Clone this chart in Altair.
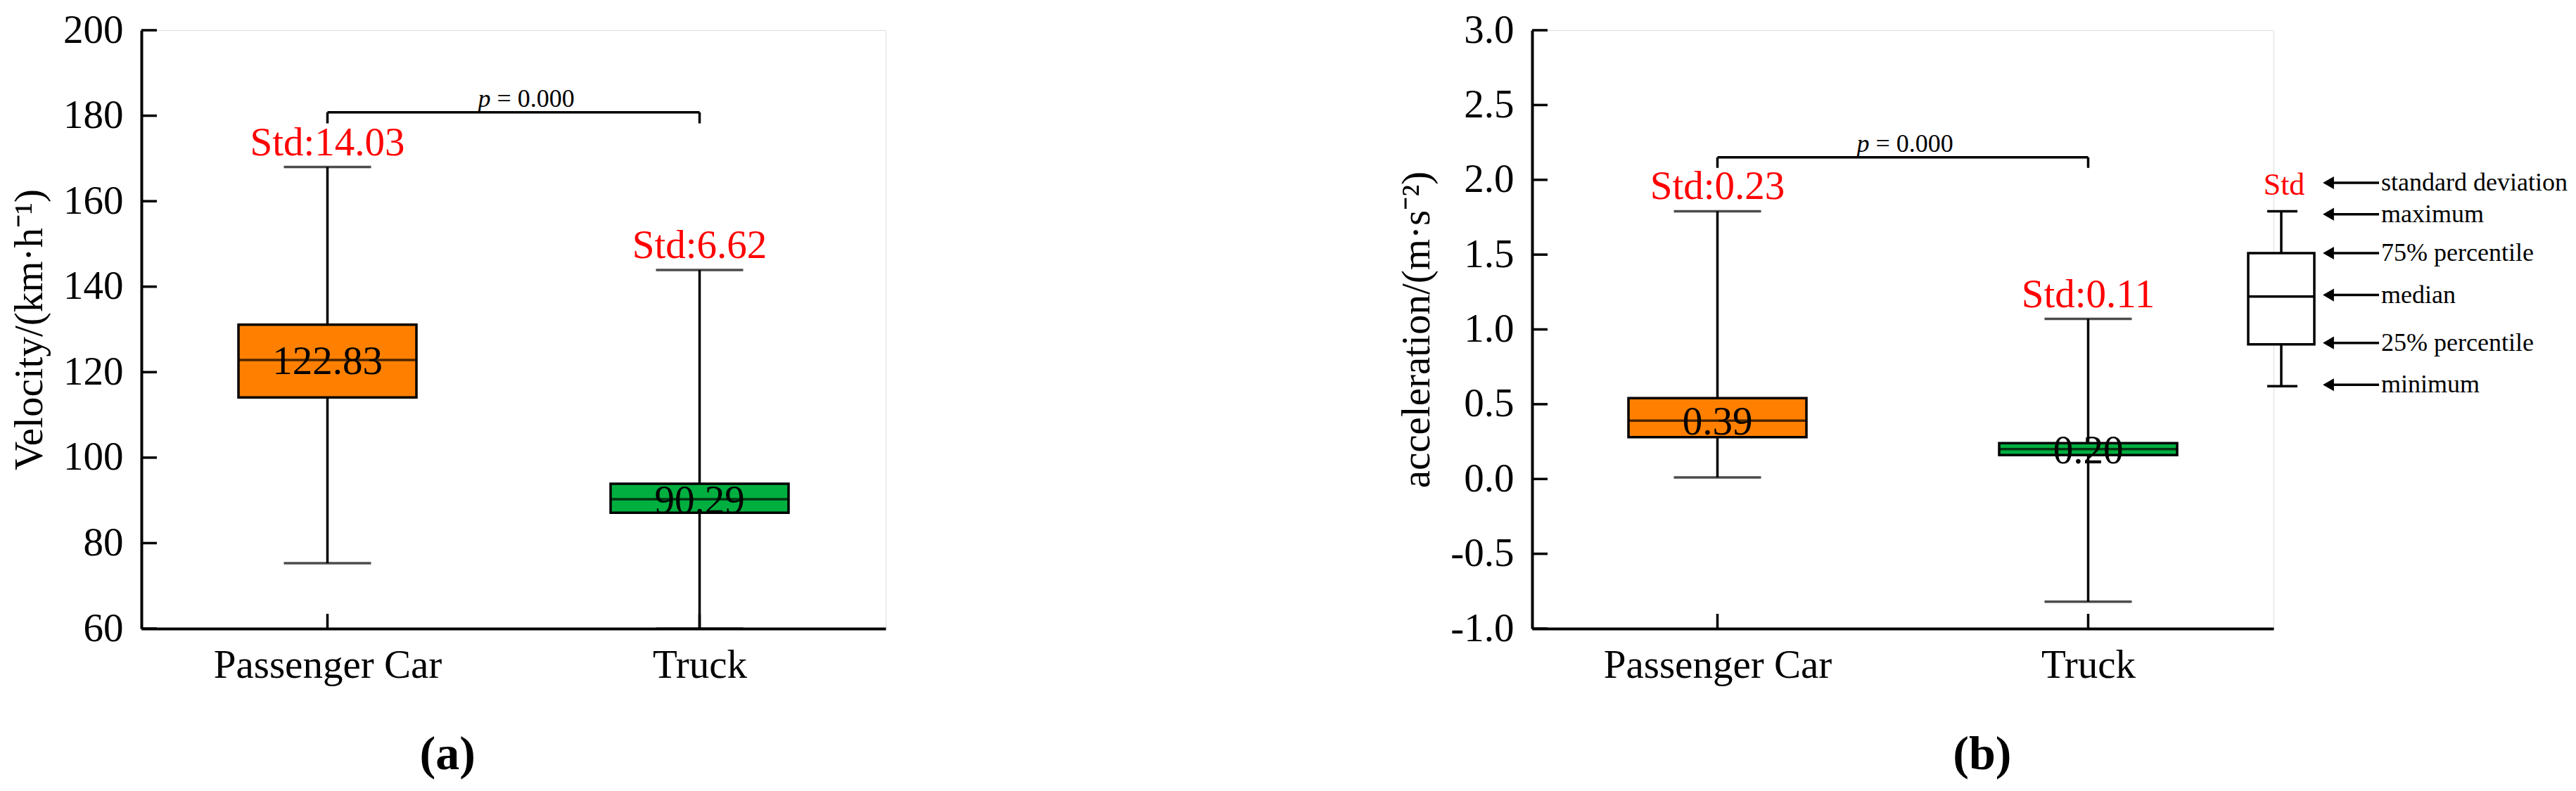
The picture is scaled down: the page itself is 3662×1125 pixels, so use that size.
import altair as alt
import pandas as pd

# ---------------- data ----------------
categories = ["Passenger Car", "Truck"]
box_colors = ["#FF8000", "#00AF3F"]

# (a) velocity, km/h
vel_min = [75.3, 60.0]
vel_q1 = [114.1, 87.1]
vel_median = [122.83, 90.29]
vel_q3 = [131.1, 93.9]
vel_max = [168.0, 143.9]
vel_std = [14.03, 6.62]
vel_ticks = [60, 80, 100, 120, 140, 160, 180, 200]
vel_domain = [60, 200]
vel_bracket = [180.8, 178.2]

# (b) acceleration, m/s^2
acc_min = [0.01, -0.82]
acc_q1 = [0.28, 0.16]
acc_median = [0.39, 0.20]
acc_q3 = [0.54, 0.24]
acc_max = [1.79, 1.07]
acc_std = [0.23, 0.11]
acc_ticks = [-1.0, -0.5, 0.0, 0.5, 1.0, 1.5, 2.0, 2.5, 3.0]
acc_domain = [-1.0, 3.0]
acc_bracket = [2.15, 2.08]

p_value_text = "= 0.000"

# legend key (schematic box drawn on the acceleration scale)
legend_box = [0.62, 0.90, 1.22, 1.51, 1.79]  # min, q1, median, q3, max
legend_std_y = 1.90
legend_labels = ["standard deviation", "maximum", "75% percentile",
                 "median", "25% percentile", "minimum"]
legend_label_y = [1.98, 1.77, 1.51, 1.23, 0.91, 0.63]

# ---------------- layout / style ----------------
FONT = "Liberation Serif"
FS = 57
W_A, W_B, H = 1058, 1054, 851
TICK_LEN = 22
BOX_W, CAP_W = 253, 124
LW = 3.5
AXW = 4


def make_panel(lo, q1, med, q3, hi, std, ticks, domain, ytitle, bracket,
               p_dx, width, label_expr, subtitle, legend=False):
    xscale = alt.Scale(type="point", padding=0.5, domain=categories)
    xaxis = alt.Axis(ticks=False, grid=False, domainWidth=AXW, domainColor="black",
                     labelFont=FONT, labelFontSize=FS, labelColor="black",
                     labelPadding=24, labelAngle=0, labelLimit=0)
    yscale = alt.Scale(domain=domain, nice=False, zero=False)
    yaxis = alt.Axis(values=ticks, ticks=False, grid=False, domainWidth=AXW,
                     domainColor="black", labelFont=FONT, labelFontSize=FS,
                     labelColor="black", labelPadding=26, labelFlush=False,
                     labelOverlap=False, labelExpr=label_expr, labelLimit=0,
                     titleFont=FONT, titleFontSize=FS, titleFontWeight="normal",
                     titleColor="black", titlePadding=18)

    def X(f="cat"):
        return alt.X(f"{f}:N", scale=xscale, axis=xaxis, title=None)

    def Y(f):
        return alt.Y(f"{f}:Q", scale=yscale, axis=yaxis, title=ytitle)

    df = pd.DataFrame(dict(cat=categories, lo=lo, q1=q1, med=med, q3=q3, hi=hi,
                           std=std, color=box_colors))
    df["std_label"] = ["Std:" + format(s, ".2f") for s in std]
    df["med_label"] = [format(m, ".2f") for m in med]
    base = alt.Chart(df)

    whisker = base.mark_rule(strokeWidth=LW, color="black").encode(
        x=X(), y=Y("lo"), y2="hi")
    box = base.mark_bar(size=BOX_W, stroke="black", strokeWidth=LW).encode(
        x=X(), y=Y("q1"), y2="q3", color=alt.Color("color:N", scale=None))
    median = base.mark_tick(size=BOX_W, thickness=LW, color="black").encode(
        x=X(), y=Y("med"))
    cap_hi = base.mark_tick(size=CAP_W, thickness=LW, color="black").encode(
        x=X(), y=Y("hi"))
    cap_lo = base.mark_tick(size=CAP_W, thickness=LW, color="black").encode(
        x=X(), y=Y("lo"))
    std_txt = base.mark_text(font=FONT, fontSize=FS, color="#FF0000",
                             baseline="alphabetic", dy=-17).encode(
        x=X(), y=Y("hi"), text="std_label:N")
    med_txt = base.mark_text(font=FONT, fontSize=FS, color="black",
                             baseline="alphabetic", dy=20).encode(
        x=X(), y=Y("med"), text="med_label:N")

    # inward ticks
    tdf = pd.DataFrame({"v": ticks})
    yticks = alt.Chart(tdf).mark_rule(strokeWidth=LW, color="black").encode(
        y=Y("v"), x=alt.value(0), x2=alt.value(TICK_LEN))
    xticks = base.mark_rule(strokeWidth=LW, color="black").encode(
        x=X(), y=alt.value(H), y2=alt.value(H - 21))

    # significance bracket
    bdf = pd.DataFrame({"cat": [categories[0]], "cat2": [categories[1]],
                        "y": [bracket[0]]})
    bar_line = alt.Chart(bdf).mark_rule(strokeWidth=LW, color="black").encode(
        x=X(), x2="cat2:N", y=Y("y"))
    ldf = pd.DataFrame({"cat": categories, "y": [bracket[0]] * 2,
                        "y2": [bracket[1]] * 2})
    legs = alt.Chart(ldf).mark_rule(strokeWidth=LW, color="black").encode(
        x=X(), y=Y("y"), y2="y2")
    p_it = alt.Chart(bdf).mark_text(font=FONT, fontSize=36, fontStyle="italic",
                                    color="black", align="right",
                                    baseline="alphabetic", dx=p_dx, dy=-8).encode(
        x=X(), y=Y("y"), text=alt.value("p"))
    p_rest = alt.Chart(bdf).mark_text(font=FONT, fontSize=36, color="black",
                                      align="left", baseline="alphabetic",
                                      dx=p_dx + 9, dy=-8).encode(
        x=X(), y=Y("y"), text=alt.value(p_value_text))

    layers = [whisker, box, median, cap_hi, cap_lo, std_txt, med_txt,
              yticks, xticks, bar_line, legs, p_it, p_rest]

    if legend:
        lg = pd.DataFrame({"lo": [legend_box[0]], "q1": [legend_box[1]],
                           "med": [legend_box[2]], "q3": [legend_box[3]],
                           "hi": [legend_box[4]]})
        lgc = alt.Chart(lg)
        BX1, BX2, BXC = 1018, 1112, 1065
        CX1, CX2 = 1045, 1088
        layers += [
            lgc.mark_rule(strokeWidth=LW, color="black").encode(
                x=alt.value(BXC), y=Y("lo"), y2="hi"),
            lgc.mark_rect(fill="white", stroke="black", strokeWidth=LW).encode(
                x=alt.value(BX1), x2=alt.value(BX2), y=Y("q1"), y2="q3"),
            lgc.mark_rule(strokeWidth=LW, color="black").encode(
                x=alt.value(BX1), x2=alt.value(BX2), y=Y("med")),
            lgc.mark_rule(strokeWidth=LW, color="black").encode(
                x=alt.value(CX1), x2=alt.value(CX2), y=Y("hi")),
            lgc.mark_rule(strokeWidth=LW, color="black").encode(
                x=alt.value(CX1), x2=alt.value(CX2), y=Y("lo")),
        ]
        sdf = pd.DataFrame({"y": [legend_std_y]})
        layers.append(alt.Chart(sdf).mark_text(
            font=FONT, fontSize=44, color="#FF0000", baseline="alphabetic").encode(
            x=alt.value(BXC + 4), y=Y("y"), text=alt.value("Std")))
        adf = pd.DataFrame({"y": legend_label_y, "label": legend_labels})
        ac = alt.Chart(adf)
        layers += [
            ac.mark_rule(strokeWidth=LW, color="black").encode(
                x=alt.value(1130), x2=alt.value(1204), y=Y("y")),
            ac.mark_point(shape="triangle-left", filled=True, size=330,
                          color="black", opacity=1).encode(
                x=alt.value(1132), y=Y("y")),
            ac.mark_text(font=FONT, fontSize=36, color="black", align="left",
                         baseline="middle").encode(
                x=alt.value(1207), y=Y("y"), text="label:N"),
        ]

    return alt.layer(*layers).properties(
        width=width, height=H,
        title=alt.TitleParams(subtitle, orient="bottom", frame="bounds",
                              anchor="middle", font=FONT, fontSize=68,
                              fontWeight="bold", color="black", offset=66))


panel_a = make_panel(vel_min, vel_q1, vel_median, vel_q3, vel_max, vel_std,
                     vel_ticks, vel_domain, "Velocity/(km·h⁻¹)", vel_bracket,
                     232, W_A, "format(datum.value, 'd')", "(a)")
panel_b = make_panel(acc_min, acc_q1, acc_median, acc_q3, acc_max, acc_std,
                     acc_ticks, acc_domain, "acceleration/(m·s⁻²)", acc_bracket,
                     216, W_B,
                     "datum.value < 0 ? '-' + format(-datum.value, '.1f') : format(datum.value, '.1f')",
                     "(b)", legend=True)

chart = alt.hconcat(panel_a, panel_b, spacing=725).properties(
    padding={"left": 5, "top": 5, "right": 0, "bottom": 0}
).configure_view(stroke=None).configure(background="white")

chart.save("out.html", embed_options={"renderer": "svg", "actions": False})
